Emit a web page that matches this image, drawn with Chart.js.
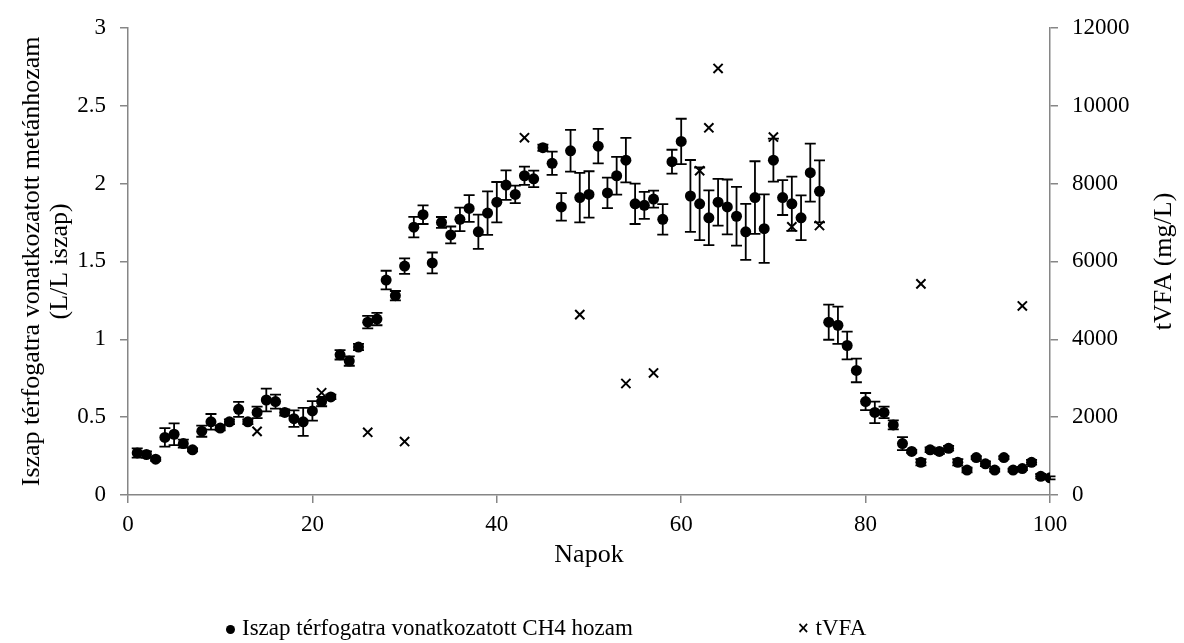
<!DOCTYPE html>
<html>
<head>
<meta charset="utf-8">
<script src="https://cdn.jsdelivr.net/npm/chart.js@4.4.1/dist/chart.umd.min.js"></script>
<style>
    body { margin: 0; background: #fff; }
    #wrap { position: relative; width: 1184px; height: 643px; }
    .leg { position: absolute; top: 615px; font: 23px 'Liberation Serif', 'Times New Roman', serif; color: #000; white-space: nowrap; }
    .leg .dot { display: inline-block; width: 9px; height: 9px; border-radius: 50%; background: #000; margin: 0 7px 1px 1px; vertical-align: middle; }
    .leg .x { display: inline-block; font: bold 15px 'DejaVu Sans', sans-serif; margin-right: 6px; vertical-align: 2px; }
</style>
</head>
<body>
<div id="wrap">
    <canvas id="chart" width="1184" height="643"></canvas>
    <div class="leg" style="left: 225px;"><span class="dot"></span>Iszap térfogatra vonatkozatott CH4 hozam</div>
    <div class="leg" style="left: 797px;"><span class="x">×</span>tVFA</div>
</div>
<script>
// napok (x)
const days = [1, 2, 3, 4, 5, 6, 7, 8, 9, 10, 11, 12, 13, 14, 15, 16, 17, 18, 19, 20,
    21, 22, 23, 24, 25, 26, 27, 28, 29, 30, 31, 32, 33, 34, 35, 36, 37, 38, 39, 40,
    41, 42, 43, 44, 45, 46, 47, 48, 49, 50, 51, 52, 53, 54, 55, 56, 57, 58, 59, 60,
    61, 62, 63, 64, 65, 66, 67, 68, 69, 70, 71, 72, 73, 74, 75, 76, 77, 78, 79, 80,
    81, 82, 83, 84, 85, 86, 87, 88, 89, 90, 91, 92, 93, 94, 95, 96, 97, 98, 99, 100];

// CH4 hozam (L/L iszap)
const ch4 = [0.27, 0.26, 0.23, 0.37, 0.39, 0.33, 0.29, 0.41, 0.47, 0.43,
    0.47, 0.55, 0.47, 0.53, 0.61, 0.60, 0.53, 0.49, 0.47, 0.54,
    0.60, 0.63, 0.90, 0.86, 0.95, 1.11, 1.13, 1.38, 1.28, 1.47,
    1.72, 1.80, 1.49, 1.75, 1.67, 1.77, 1.84, 1.69, 1.81, 1.88,
    1.99, 1.93, 2.05, 2.03, 2.23, 2.13, 1.85, 2.21, 1.91, 1.93,
    2.24, 1.94, 2.05, 2.15, 1.87, 1.86, 1.90, 1.77, 2.14, 2.27,
    1.92, 1.87, 1.78, 1.88, 1.85, 1.79, 1.69, 1.91, 1.71, 2.15,
    1.91, 1.87, 1.78, 2.07, 1.95, 1.11, 1.09, 0.96, 0.80, 0.60,
    0.53, 0.53, 0.45, 0.33, 0.28, 0.21, 0.29, 0.28, 0.30, 0.21,
    0.16, 0.24, 0.20, 0.16, 0.24, 0.16, 0.17, 0.21, 0.12, 0.11];

// szórás (+/-)
const ch4Err = [0.03, 0.02, 0.01, 0.06, 0.07, 0.025, 0.01, 0.036, 0.05, 0.015,
    0.015, 0.048, 0.015, 0.037, 0.073, 0.045, 0.02, 0.053, 0.09, 0.063,
    0.03, 0.015, 0.03, 0.03, 0.02, 0.04, 0.04, 0.06, 0.03, 0.05,
    0.066, 0.06, 0.067, 0.035, 0.054, 0.075, 0.086, 0.11, 0.14, 0.13,
    0.095, 0.056, 0.058, 0.053, 0.02, 0.075, 0.088, 0.134, 0.159, 0.149,
    0.111, 0.098, 0.121, 0.143, 0.13, 0.087, 0.055, 0.098, 0.077, 0.146,
    0.231, 0.233, 0.176, 0.15, 0.176, 0.189, 0.18, 0.233, 0.22, 0.138,
    0.112, 0.174, 0.144, 0.186, 0.199, 0.113, 0.12, 0.089, 0.076, 0.055,
    0.069, 0.037, 0.029, 0.042, 0.01, 0.02, 0.015, 0.015, 0.015, 0.02,
    0.015, 0.01, 0.015, 0.01, 0.01, 0.01, 0.01, 0.015, 0.015, 0.01];

// tVFA (mg/L)
const vfaDays = [14, 21, 26, 30, 43, 49, 54, 57, 62, 63, 64, 70, 72, 75, 86, 97];
const vfa = [1635, 2626, 1610, 1373, 9177, 4634, 2864, 3135, 8330, 9431, 10956, 9194, 6889, 6922, 5423, 4855];

const xTicks = [0, 20, 40, 60, 80, 100];

const serif = "'Liberation Serif', 'Times New Roman', serif";
const axisColor = '#868686';
const tickFont = {family: serif, size: 23};
const titleFont = {family: serif, size: 26};

// hibasávok a CH4 pontokra
const errorBars = {
    id: 'errorBars',
    afterDatasetsDraw(chart) {
        const ctx = chart.ctx;
        const xs = chart.scales.x, ys = chart.scales.y;
        ctx.save();
        ctx.strokeStyle = '#000';
        ctx.lineWidth = 1.8;
        days.forEach((d, i) => {
            const px = xs.getPixelForValue(d);
            const top = ys.getPixelForValue(ch4[i] + ch4Err[i]);
            const bot = ys.getPixelForValue(ch4[i] - ch4Err[i]);
            ctx.beginPath();
            ctx.moveTo(px, top); ctx.lineTo(px, bot);
            ctx.moveTo(px - 5.5, top); ctx.lineTo(px + 5.5, top);
            ctx.moveTo(px - 5.5, bot); ctx.lineTo(px + 5.5, bot);
            ctx.stroke();
        });
        ctx.restore();
    }
};

// jobb oldali tengelycím alulról felfelé olvasva (mint a bal oldalon)
const rightTitle = {
    id: 'rightTitle',
    afterDraw(chart) {
        const ctx = chart.ctx;
        const s = chart.scales.y2;
        ctx.save();
        ctx.translate(s.right - 20, (s.top + s.bottom) / 2);
        ctx.rotate(-Math.PI / 2);
        ctx.font = '26px ' + serif;
        ctx.fillStyle = '#000';
        ctx.textAlign = 'center';
        ctx.textBaseline = 'middle';
        ctx.fillText('tVFA (mg/L)', 0, 0);
        ctx.restore();
    }
};

new Chart(document.getElementById('chart'), {
    type: 'scatter',
    data: {
        datasets: [{
            label: 'Iszap térfogatra vonatkozatott CH4 hozam',
            data: days.map((d, i) => ({x: d, y: ch4[i]})),
            yAxisID: 'y',
            pointStyle: 'circle',
            pointRadius: 5.5,
            backgroundColor: '#000',
            borderColor: '#000',
            borderWidth: 0
        }, {
            label: 'tVFA',
            data: vfaDays.map((d, i) => ({x: d, y: vfa[i]})),
            yAxisID: 'y2',
            pointStyle: 'crossRot',
            pointRadius: 6.5,
            borderColor: '#000',
            borderWidth: 2
        }]
    },
    options: {
        responsive: false,
        animation: false,
        layout: {padding: {top: 23, left: 0, right: 0, bottom: 0}},
        plugins: {legend: {display: false}, tooltip: {enabled: false}},
        scales: {
            x: {
                type: 'linear', min: 0, max: 100,
                afterBuildTicks: s => { s.ticks = xTicks.map(v => ({value: v})); },
                ticks: {color: '#000', font: tickFont, padding: 8, maxRotation: 0},
                grid: {drawOnChartArea: false, tickLength: 8, color: axisColor, lineWidth: 1.5},
                border: {color: axisColor, width: 1.5},
                title: {display: true, text: 'Napok', color: '#000', font: titleFont, padding: {top: 0, bottom: 72}},
                afterFit: s => { s.height = 148; }
            },
            y: {
                position: 'left', min: 0, max: 3,
                ticks: {stepSize: 0.5, color: '#000', font: tickFont, padding: 14, callback: v => String(v)},
                grid: {drawOnChartArea: false, tickLength: 8, color: axisColor, lineWidth: 1.5},
                border: {color: axisColor, width: 1.5},
                title: {
                    display: true,
                    text: ['Iszap térfogatra vonatkozatott metánhozam', '(L/L iszap)'],
                    color: '#000',
                    font: {family: serif, size: 26, lineHeight: 1.05},
                    padding: {top: 19, bottom: 0}
                },
                afterFit: s => { s.width = 128; }
            },
            y2: {
                position: 'right', min: 0, max: 12000,
                ticks: {stepSize: 2000, color: '#000', font: tickFont, padding: 14, callback: v => String(v)},
                grid: {drawOnChartArea: false, tickLength: 8, color: axisColor, lineWidth: 1.5},
                border: {color: axisColor, width: 1.5},
                title: {display: false},
                afterFit: s => { s.width = 134; }
            }
        }
    },
    plugins: [errorBars, rightTitle]
});
</script>
</body>
</html>
